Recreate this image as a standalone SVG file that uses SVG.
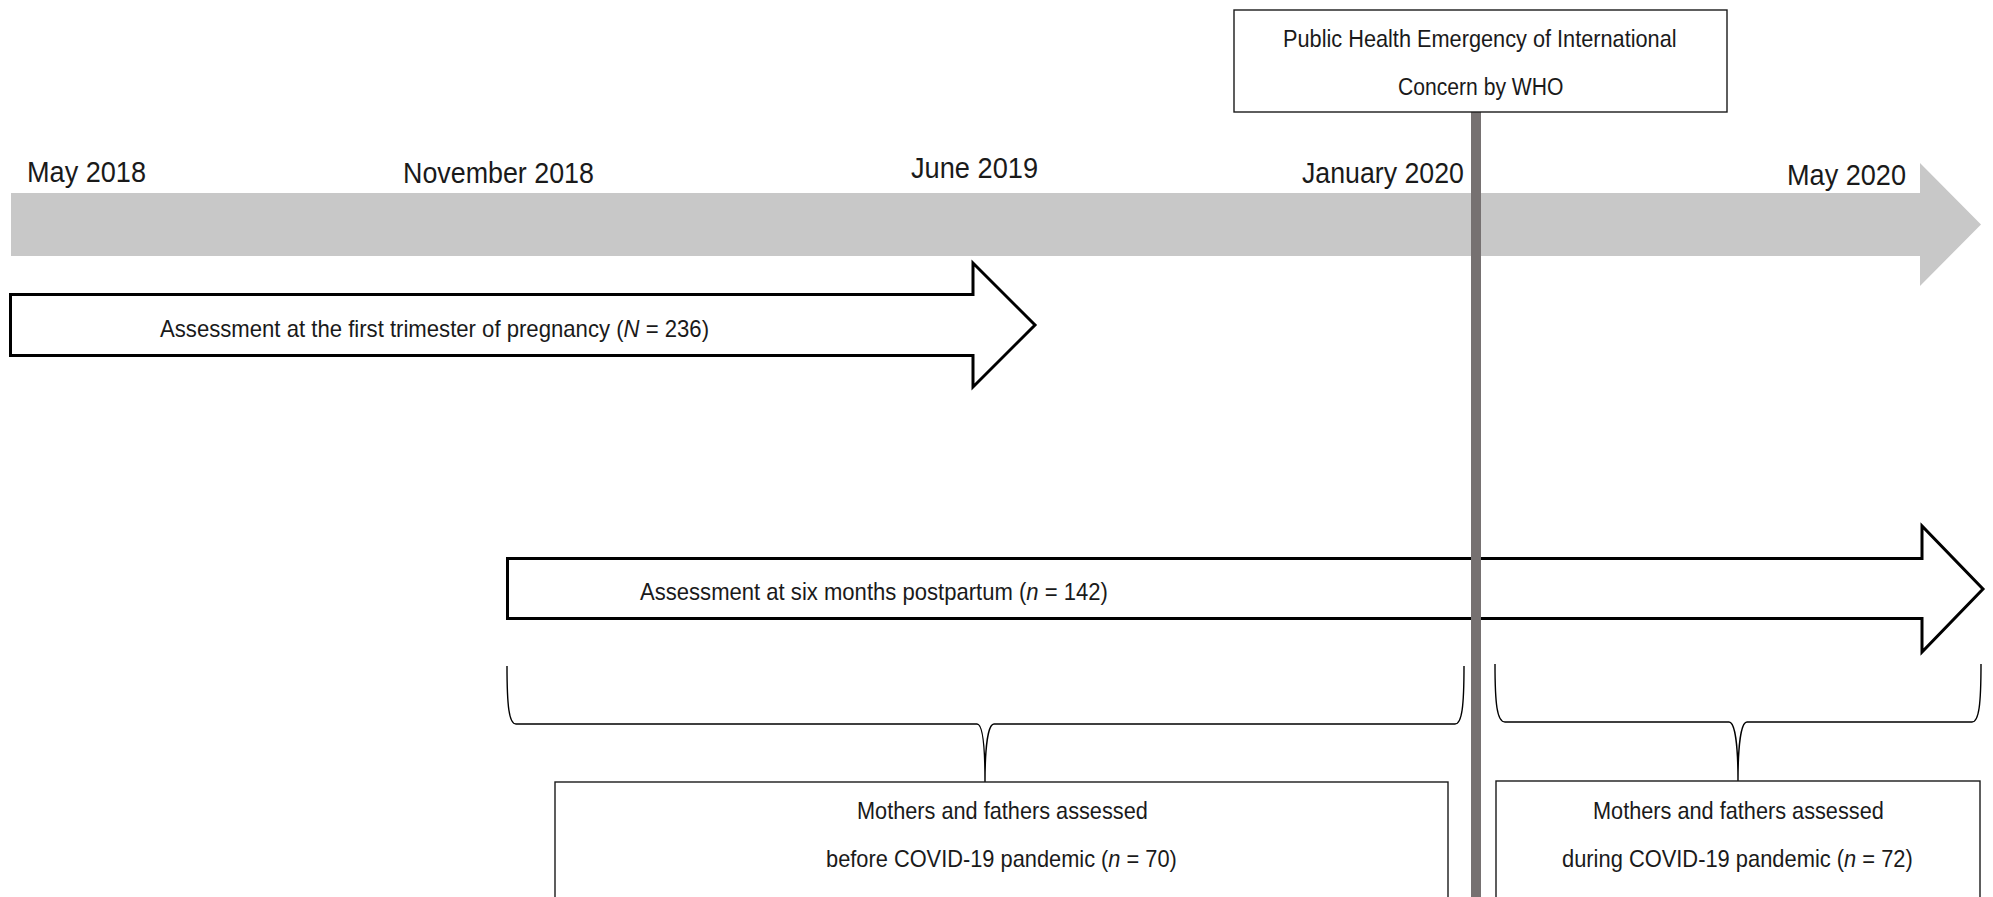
<svg xmlns="http://www.w3.org/2000/svg" width="1993" height="897" viewBox="0 0 1993 897">
<style>
text{font-family:"Liberation Sans",Arial,sans-serif;fill:#1a1a1a;}
.date{font-size:30px;}
.body{font-size:24px;}
.big-arrow{fill:#fff;stroke:#000;stroke-width:3;stroke-linejoin:miter;}
.box{fill:#fff;stroke:#1a1a1a;stroke-width:1.4;}
.brace{fill:none;stroke:#000;stroke-width:1.4;}
</style>
<rect x="0" y="0" width="1993" height="897" fill="#fff"/>
<g id="timeline">
<path d="M11,193 L1920,193 L1920,163 L1981,224.5 L1920,286 L1920,256 L11,256 Z" fill="#c8c8c8"/>
</g>
<g id="dates">
<text class="date" transform="translate(27,182) scale(0.903,1)">May 2018</text>
<text class="date" transform="translate(403,183) scale(0.895,1)">November 2018</text>
<text class="date" transform="translate(911,178) scale(0.907,1)">June 2019</text>
<text class="date" transform="translate(1302,183) scale(0.891,1)">January 2020</text>
<text class="date" transform="translate(1787,185) scale(0.903,1)">May 2020</text>
</g>
<g id="arrow-first-trimester">
<path class="big-arrow" d="M10.5,294.5 L973,294.5 L973,263 L1035,325 L973,387 L973,355.5 L10.5,355.5 Z"/>
<text class="body" transform="translate(160,337) scale(0.922,1)">Assessment at the first trimester of pregnancy (<tspan font-style="italic">N</tspan> = 236)</text>
</g>
<g id="arrow-postpartum">
<path class="big-arrow" d="M507.5,558.5 L1922,558.5 L1922,526 L1983,589 L1922,652 L1922,618.5 L507.5,618.5 Z"/>
<text class="body" transform="translate(640,600) scale(0.92,1)">Assessment at six months postpartum (<tspan font-style="italic">n</tspan> = 142)</text>
</g>
<g id="connectors">
<path class="brace" d="M507,666 C507,706 509,724 516,724 L977,724 C983,724 985,748 985,782 M1464,666 C1464,706 1462,724 1455,724 L994,724 C988,724 985,748 985,782"/>
<path class="brace" d="M1495,664 C1495,704 1497,722 1505,722 L1729,722 C1735,722 1738,746 1738,781 M1981,664 C1981,704 1979,722 1972,722 L1747,722 C1741,722 1738,746 1738,781"/>
</g>
<g id="box-before">
<rect class="box" x="555" y="782" width="893" height="130"/>
<text class="body" transform="translate(857,819) scale(0.905,1)">Mothers and fathers assessed</text>
<text class="body" transform="translate(826,867) scale(0.909,1)">before COVID-19 pandemic (<tspan font-style="italic">n</tspan> = 70)</text>
</g>
<g id="box-during">
<rect class="box" x="1496" y="781" width="484" height="130"/>
<text class="body" transform="translate(1593,819) scale(0.905,1)">Mothers and fathers assessed</text>
<text class="body" transform="translate(1562,867) scale(0.912,1)">during COVID-19 pandemic (<tspan font-style="italic">n</tspan> = 72)</text>
</g>
<g id="who-marker">
<rect x="1471" y="112" width="10" height="790" fill="#767171"/>
</g>
<g id="who-box">
<rect class="box" x="1234" y="10" width="493" height="102"/>
<text class="body" transform="translate(1283,47) scale(0.906,1)">Public Health Emergency of International</text>
<text class="body" transform="translate(1398,95) scale(0.88,1)">Concern by WHO</text>
</g>
</svg>
